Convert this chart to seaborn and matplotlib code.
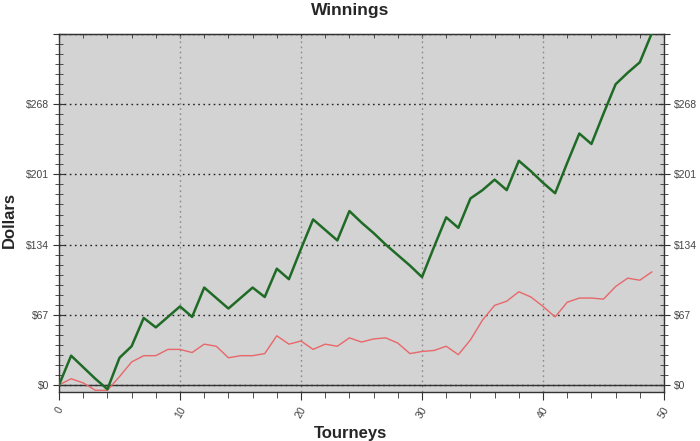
#!/usr/bin/env python3

import pandas as pd
import matplotlib
matplotlib.use("Agg")
import matplotlib.pyplot as plt
import seaborn as sns
from matplotlib.ticker import MultipleLocator, AutoMinorLocator

tourneys = list(range(50))
total_winnings = [0, 28, 17, 6, -4, 26, 37, 64, 55, 65,
                  75, 65, 93, 83, 73, 83, 93, 84, 111, 101,
                  130, 158, 148, 138, 166, 155, 145, 134, 124, 114,
                  103, 132, 160, 150, 178, 186, 196, 186, 214, 204,
                  193, 183, 212, 240, 230, 259, 287, 298, 308, 336]
average_winnings = [0, 6, 2, -5, -5, 8, 22, 28, 28, 34,
                    34, 31, 39, 37, 26, 28, 28, 30, 47, 39,
                    42, 34, 39, 37, 45, 41, 44, 45, 40, 30,
                    32, 33, 37, 29, 43, 62, 76, 80, 89, 84,
                    75, 65, 79, 83, 83, 82, 94, 102, 100, 108]
y_ticks = [0, 67, 134, 201, 268, 335]
y_tick_labels = ["$0", "$67", "$134", "$201", "$268", ""]


def main():
    df = pd.DataFrame({"tourney": tourneys,
                       "total": total_winnings,
                       "average": average_winnings})

    sns.set_style("white")
    plt.rcParams["font.family"] = ["Liberation Sans", "DejaVu Sans"]

    fig = plt.figure(figsize=(7, 4.41), dpi=100)
    ax = fig.add_axes([0.0843, 0.111, 0.8643, 0.812])
    ax.set_facecolor("#d3d3d3")

    ax.axhline(0, color="#333333", linewidth=1, zorder=1)
    sns.lineplot(data=df, x="tourney", y="average", ax=ax,
                 color="#e8676a", linewidth=1, zorder=3)
    sns.lineplot(data=df, x="tourney", y="total", ax=ax,
                 color="#1f6b26", linewidth=1.8, zorder=4)

    ax.set_xlim(0, 50)
    ax.set_ylim(-6.7, 335)

    ax.set_yticks(y_ticks)
    ax.set_yticklabels(y_tick_labels)
    ax.yaxis.set_minor_locator(AutoMinorLocator(7))
    ax.xaxis.set_major_locator(MultipleLocator(10))
    ax.xaxis.set_minor_locator(MultipleLocator(2))

    # dotted grid, horizontal darker than vertical
    ax.yaxis.grid(True, linestyle=(0, (1.2, 2.5)), color="#222222", linewidth=1)
    ax.xaxis.grid(True, linestyle=(0, (1.2, 2.5)), color="#8a8a8a", linewidth=1)
    ax.set_axisbelow(True)

    for spine in ax.spines.values():
        spine.set_visible(True)
        spine.set_color("#333333")
        spine.set_linewidth(1)

    ax.tick_params(axis="y", which="both", left=True, right=True,
                   labelleft=True, labelright=True, direction="inout",
                   colors="#333333", labelcolor="#444444", labelsize=7.5)
    ax.tick_params(axis="y", which="major", length=8, pad=3)
    ax.tick_params(axis="y", which="minor", length=6)
    ax.tick_params(axis="x", which="both", bottom=True, top=False,
                   colors="#333333", labelcolor="#444444", labelsize=7.5)
    ax.tick_params(axis="x", which="major", length=6, direction="out")
    ax.tick_params(axis="x", which="minor", length=4, direction="out")
    # small inward ticks along the top edge
    top = ax.secondary_xaxis("top")
    top.xaxis.set_major_locator(MultipleLocator(10))
    top.xaxis.set_minor_locator(MultipleLocator(2))
    top.tick_params(which="both", direction="in", length=3,
                    colors="#333333", labeltop=False)
    top.spines["top"].set_color("#333333")
    for lbl in ax.get_xticklabels():
        lbl.set_rotation(60)

    ax.set_xlabel("")
    ax.set_ylabel("")
    fig.text(0.5, 0.977, "Winnings", ha="center", va="center",
             fontsize=12.5, fontweight="bold")
    fig.text(0.013, 0.5, "Dollars", ha="center", va="center",
             rotation=90, fontsize=12, fontweight="bold")
    fig.text(0.5, 0.001, "Tourneys", ha="center", va="bottom",
             fontsize=12, fontweight="bold")

    plt.savefig("out.png", dpi=100)
    plt.close()


if __name__ == "__main__":
    main()
